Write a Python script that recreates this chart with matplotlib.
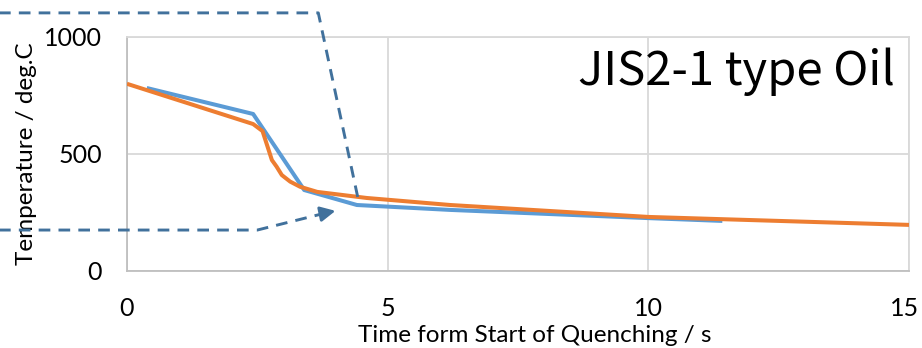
import matplotlib
matplotlib.use("Agg")
import matplotlib.pyplot as plt
import matplotlib.transforms as mtransforms

# Measured cooling curve (blue) and calculated curve (orange)
blue_t = [0.38, 2.42, 3.40, 4.41, 6.2, 10.0, 11.42]
blue_T = [782, 671, 346, 282, 261, 226, 214]

orange_t = [0.0, 2.42, 2.6, 2.78, 2.87, 2.97, 3.13, 3.32, 3.65, 4.6, 6.2, 10.0, 15.0]
orange_T = [800, 628, 598, 474, 446, 410, 382, 360, 338, 312, 282, 231, 197]

# Dashed callout lines (extend off the left of the plot)
top_dash_t = [-3.0, 3.67, 4.43]
top_dash_T = [1103, 1103, 312]
bot_dash_t = [-3.0, 2.5, 3.85]
bot_dash_T = [175, 175, 250]
arrow_tip = (4.0, 257)

xticks = [0, 5, 10, 15]
yticks = [0, 500, 1000]

plt.rcParams['font.family'] = ['Lato', 'DejaVu Sans']

fig = plt.figure(figsize=(9.22, 3.48), dpi=100)
ax = fig.add_axes([0.1377, 0.2213, 0.8482, 0.6724])

ax.plot(blue_t, blue_T, color='#5B9BD5', lw=2.9, solid_capstyle='butt', zorder=3)
ax.plot(orange_t, orange_T, color='#ED7D31', lw=2.9, solid_capstyle='butt', zorder=4)

dash_color = '#41719C'
ax.plot(top_dash_t, top_dash_T, color=dash_color, lw=2.1, dashes=(4, 2.8),
        clip_on=False, zorder=5)
ax.plot(bot_dash_t, bot_dash_T, color=dash_color, lw=2.1, dashes=(4, 2.8),
        clip_on=False, zorder=5)
ax.annotate('', xy=arrow_tip, xytext=(bot_dash_t[-1], bot_dash_T[-1]),
            arrowprops=dict(arrowstyle='-|>,head_length=0.9,head_width=0.45',
                            color=dash_color, lw=2.1, shrinkA=0, shrinkB=0),
            annotation_clip=False, zorder=5)

ax.set_xlim(0, 15)
ax.set_ylim(0, 1000)
ax.set_xticks(xticks)
ax.set_yticks(yticks)
ax.tick_params(length=0, labelsize=18, pad=19)
ax.tick_params(axis='y', pad=18)
ax.grid(color='#D9D9D9', lw=1.3)
ax.set_axisbelow(True)
for side in ['top', 'right']:
    ax.spines[side].set_color('#D9D9D9')
    ax.spines[side].set_linewidth(1.3)
for side in ['left', 'bottom']:
    ax.spines[side].set_color('#BFBFBF')
    ax.spines[side].set_linewidth(1.3)

# keep the last x tick label inside the figure
last = ax.get_xticklabels()[-1]
last.set_transform(last.get_transform() +
                   mtransforms.ScaledTranslation(-4 / 100, 0, fig.dpi_scale_trans))

ax.set_xlabel('Time form Start of Quenching / s', fontsize=17.5, labelpad=0)
ax.set_ylabel('Temperature / deg.C', fontsize=17.5, labelpad=4)
ax.xaxis.set_label_coords(0.522, -0.23)
ax.yaxis.set_label_coords(-0.115, 0.5)

fig.text(895 / 922, 1 - 85 / 348, 'JIS2-1 type Oil', ha='right', va='baseline',
         fontsize=34, family=['Noto Sans CJK JP', 'DejaVu Sans'], color='black')

fig.savefig('out.png', dpi=100)
